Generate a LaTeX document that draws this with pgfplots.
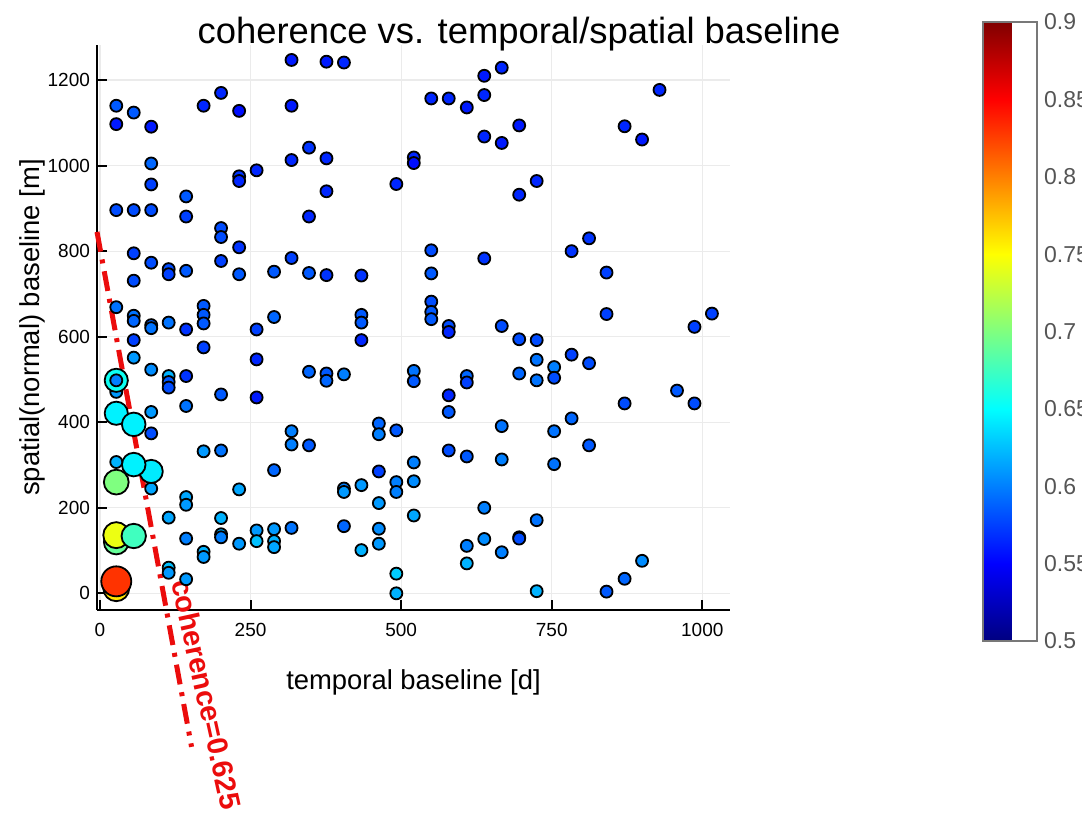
\documentclass[border=0pt]{standalone}
\usepackage{pgfplots}
\pgfplotsset{compat=1.18}
\usepackage{pgfplotstable}
\usepackage{fontspec}
\setmainfont{Liberation Sans}

\definecolor{lred}{RGB}{235,12,12}
\definecolor{cbgray}{RGB}{85,85,85}
\definecolor{cbframe}{RGB}{120,120,120}
\pgfplotsset{colormap={jetm}{rgb255(0cm)=(0,0,128) rgb255(1cm)=(0,0,255)
  rgb255(3cm)=(0,255,255) rgb255(5cm)=(255,255,0) rgb255(7cm)=(255,0,0)
  rgb255(8cm)=(128,0,0)}}
\pgfplotsset{pair/.style={scatter, only marks, mark=*, point meta=explicit,
  mark options={line width=0.9pt}, mark size=#1}}

% interferogram pairs: temporal [d], normal [m], coherence
\pgfplotstableread{
x y c
27 1140 .585
27 1097 .56
27 896 .58
27 669 .595
27 471 .61
56 1124 .585
56 896 .58
56 795 .575
56 731 .58
56 649 .595
56 637 .59
56 592 .575
56 551 .61
85 1091 .56
85 1005 .59
85 956 .575
85 896 .58
85 773 .58
85 627 .59
85 620 .595
85 523 .605
85 424 .61
85 374 .58
85 245 .615
114 758 .58
114 746 .575
114 633 .595
114 508 .62
114 494 .585
114 481 .58
114 177 .615
114 60 .625
114 48 .61
143 928 .585
143 881 .575
143 754 .585
143 617 .57
143 508 .57
143 438 .595
143 225 .615
143 207 .61
143 128 .60
143 33 .61
172 1140 .565
172 672 .585
172 651 .585
172 631 .585
172 575 .575
172 332 .61
172 97 .62
172 85 .61
201 1170 .565
201 854 .58
201 833 .58
201 777 .575
201 465 .585
201 334 .595
201 176 .62
201 138 .62
201 131 .60
231 1128 .555
231 975 .57
231 964 .565
231 809 .57
231 746 .585
231 243 .615
231 116 .61
260 989 .565
260 617 .575
260 547 .565
260 458 .56
260 147 .61
260 122 .625
289 752 .585
289 646 .59
289 288 .59
289 150 .61
289 122 .62
289 108 .615
318 1247 .56
318 1140 .56
318 1013 .565
318 784 .575
318 379 .60
318 348 .60
318 153 .595
347 1042 .57
347 881 .565
347 749 .585
347 518 .59
347 346 .585
376 1243 .56
376 1017 .565
376 940 .565
376 744 .57
376 514 .585
376 497 .59
405 1241 .565
405 512 .60
405 245 .60
405 237 .61
405 157 .59
434 743 .57
434 651 .585
434 633 .585
434 592 .565
434 253 .61
434 101 .62
463 397 .59
463 372 .60
463 285 .575
463 211 .61
463 151 .605
463 116 .61
492 957 .565
492 381 .585
492 260 .60
492 237 .60
492 46 .63
492 0 .62
521 1019 .565
521 1006 .555
521 520 .595
521 496 .585
521 306 .60
521 262 .605
521 182 .615
550 1157 .565
550 802 .58
550 748 .585
550 682 .58
550 658 .585
550 641 .585
579 1157 .565
579 625 .58
579 611 .565
579 463 .565
579 424 .585
579 334 .58
609 1136 .56
609 508 .59
609 493 .575
609 320 .585
609 111 .60
609 70 .62
638 1210 .56
638 1165 .565
638 1068 .565
638 783 .57
638 200 .60
638 127 .605
667 1229 .565
667 1053 .56
667 625 .58
667 391 .595
667 313 .60
667 96 .60
696 1094 .56
696 932 .565
696 594 .58
696 514 .59
696 131 .585
696 128 .58
725 964 .565
725 592 .58
725 546 .595
725 498 .595
725 171 .595
725 5 .62
754 529 .60
754 504 .58
754 379 .595
754 302 .595
783 800 .57
783 558 .575
783 409 .59
812 830 .57
812 538 .58
812 346 .585
841 750 .575
841 653 .575
841 4 .585
871 1092 .565
871 444 .58
871 34 .59
900 1061 .56
900 76 .605
929 1177 .565
958 474 .585
987 623 .575
987 444 .58
1016 654 .575
}\smallpts

\pgfplotstableread{
x y c
27 498 .60
27 307 .62
}\toppts

\begin{document}
\begin{tikzpicture}
\begin{axis}[
    scale only axis,
    width=316.5pt, height=282.5pt,
    xmin=-5, xmax=1046, ymin=-39, ymax=1282,
    axis lines*=left,
    axis line style={line width=1pt, black},
    xtick={0,250,500,750,1000},
    ytick={0,200,400,600,800,1000,1200},
    tick align=inside, major tick length=5pt,
    tick style={line width=1pt, black},
    grid=major, grid style={black!8, line width=0.6pt},
    /pgf/number format/1000 sep={},
    /pgf/number format/assume math mode=true,
    ticklabel style={font=\fontsize{9.5}{11}\selectfont},
    xticklabel style={yshift=-3pt},
    xlabel={temporal baseline [d]},
    xlabel style={at={(axis description cs:0.5,-0.1274)}, anchor=center,
      font=\fontsize{13.7}{16}\selectfont},
    ylabel={spatial(normal) baseline [m]},
    ylabel style={at={(axis description cs:-0.1027,0.5)}, anchor=center,
      font=\fontsize{13.7}{16}\selectfont},
    every axis title shift=0pt,
    title={coherence vs. temporal/spatial baseline},
    title style={at={(axis description cs:0.6667,1)}, anchor=base, yshift=1pt,
      font=\fontsize{18.2}{20}\selectfont},
    colormap name=jetm,
    point meta min=0.5, point meta max=0.9,
    colorbar,
    colorbar style={
      at={(parent axis.south west)}, anchor=south west,
      xshift=434.5pt, yshift=-15.5pt,
      scale only axis, width=27pt, height=309.5pt,
      axis line style={cbframe, line width=0.8pt},
      major tick length=0pt,
      ytick={0.5,0.55,0.6,0.65,0.7,0.75,0.8,0.85,0.9},
      yticklabels={0.5,0.55,0.6,0.65,0.7,0.75,0.8,0.85,0.9},
      yticklabel style={font=\fontsize{11.5}{13}\selectfont, text=cbgray},
    },
    clip=false,
    scatter/use mapped color={draw=black, fill=mapped color},
]
\addplot[pair=3pt] table[x=x, y=y, meta=c] {\smallpts};
% pairs above the threshold, larger markers
\addplot[pair=6.5pt] coordinates {(27,12) [0.76]};
\addplot[pair=6.2pt] coordinates {(27,120) [0.69]};
\addplot[pair=6.5pt] coordinates {(27,136) [0.743]};
\addplot[pair=7.5pt] coordinates {(27,28) [0.83]};
\addplot[pair=6.2pt] coordinates {(27,260) [0.70]};
\addplot[pair=5.8pt] coordinates {(27,421) [0.645] (27,498) [0.655] (85,285) [0.642]};
\addplot[pair=5.9pt] coordinates {(56,395) [0.645] (56,301) [0.645]};
\addplot[pair=6.1pt] coordinates {(56,134) [0.675]};
\addplot[pair=3pt] table[x=x, y=y, meta=c] {\toppts};
% coherence = 0.625 boundary
\addplot[lred, line width=2.5pt,
  dash pattern=on 10pt off 4pt on 2pt off 4pt, forget plot]
  coordinates {(-5,845) (152,-359)};
\node[rotate=-77.5, text=lred, font=\bfseries\fontsize{14.5}{16}\selectfont]
  at (axis cs:177,-236) {coherence=0.625};
\end{axis}
\pgfresetboundingbox
\useasboundingbox (-48.5pt,-102.5pt) rectangle (492.5pt,305pt);
\end{tikzpicture}
\end{document}
